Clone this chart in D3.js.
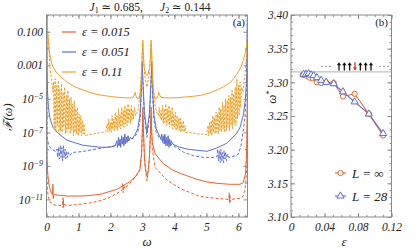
<!DOCTYPE html>
<html><head><meta charset="utf-8">
<script src="https://cdn.jsdelivr.net/npm/d3@7"></script>
<style>
body{margin:0;background:#fff}
svg{display:block}
text{font-family:"Liberation Serif","DejaVu Serif",serif;fill:#222}
</style>
</head><body>
<svg id="c" width="415" height="249"></svg>
<script>
// ---------- Panel (a) data: [omega, log10 F] ----------
const omegaTicks = [0,1,2,3,4,5,6];
const fTickExps = [-1,-3,-5,-7,-9,-11];
const fTickLabels = ["0.100","0.001","10|-5","10|-7","10|-9","10|-11"];
const legendA = ["ε = 0.015","ε = 0.051","ε = 0.11"];

const f015Solid = [[0.003,0.5],[0.01,-6.5],[0.02,-8.6],[0.04,-9.5],[0.07,-10.0],[0.11,-10.4],[0.16,-10.65],[0.19,-10.7],[0.2,-10.1],[0.21,-10.95],[0.23,-10.72],[0.4,-10.75],[0.64,-10.8],[1.0,-10.8],[1.27,-10.78],[1.67,-10.7],[2.2,-10.4],[2.6,-9.95],[2.8,-9.6],[2.92,-9.2],[2.97,-8.3],[2.995,-6.8],[3.01,-5.5],[3.025,-6.6],[3.06,-8.4],[3.1,-9.3],[3.14,-9.6],[3.18,-9.3],[3.22,-8.4],[3.255,-6.6],[3.27,-5.5],[3.285,-6.8],[3.31,-7.6],[3.39,-8.25],[3.64,-8.85],[3.9,-9.2],[4.17,-9.44],[4.7,-9.8],[5.0,-9.95],[5.33,-10.04],[5.73,-10.1],[6.05,-10.1],[6.15,-10.0],[6.22,-9.5],[6.26,-8.0],[6.283,-4.0]];

const f015Dashed = [[0.003,0.5],[0.008,-7.5],[0.02,-10.2],[0.05,-10.8],[0.11,-11.15],[0.2,-11.3],[0.33,-11.36],[0.5,-11.36],[0.51,-10.9],[0.52,-11.5],[0.53,-11.0],[0.54,-11.45],[0.56,-11.3],[0.64,-11.36],[0.9,-11.32],[1.27,-11.24],[1.6,-11.12],[1.9,-10.94],[2.2,-10.65],[2.36,-10.45],[2.38,-10.05],[2.4,-10.6],[2.42,-10.15],[2.44,-10.35],[2.7,-9.86],[2.92,-9.26],[2.97,-8.4],[3.0,-7.0],[3.015,-6.0],[3.03,-7.0],[3.07,-8.8],[3.14,-9.9],[3.21,-8.8],[3.255,-7.0],[3.27,-6.0],[3.285,-7.0],[3.31,-8.0],[3.39,-9.08],[3.77,-9.86],[4.17,-10.34],[4.7,-10.76],[5.0,-10.88],[5.33,-10.94],[5.7,-11.0],[5.71,-10.6],[5.72,-11.2],[5.73,-10.7],[5.74,-11.15],[5.76,-11.0],[6.05,-10.94],[6.15,-10.8],[6.22,-10.2],[6.26,-9.0],[6.283,-5.0]];

const f051Solid = [[0.004,0.5],[0.015,-3.0],[0.03,-4.5],[0.06,-5.5],[0.1,-6.1],[0.2,-6.7],[0.36,-7.05],[0.64,-7.47],[1.14,-7.77],[1.67,-7.89],[1.98,-7.89],[2.15,-7.8],[2.2,-7.5],[2.22,-7.9],[2.25,-7.3],[2.27,-7.8],[2.3,-7.4],[2.32,-7.9],[2.35,-7.2],[2.37,-7.7],[2.4,-7.3],[2.42,-7.8],[2.45,-7.1],[2.47,-7.7],[2.5,-7.3],[2.52,-7.6],[2.55,-7.2],[2.58,-7.5],[2.62,-7.3],[2.66,-7.4],[2.75,-7.2],[2.85,-6.8],[2.92,-6.0],[2.96,-4.6],[2.99,-2.8],[3.02,-4.2],[3.06,-5.8],[3.14,-7.0],[3.22,-5.8],[3.26,-4.2],[3.29,-2.8],[3.32,-4.6],[3.36,-6.0],[3.43,-6.8],[3.53,-7.2],[3.58,-7.4],[3.6,-7.1],[3.63,-7.6],[3.65,-7.2],[3.68,-7.7],[3.7,-7.1],[3.73,-7.8],[3.75,-7.3],[3.78,-7.8],[3.8,-7.2],[3.83,-7.9],[3.85,-7.4],[3.88,-7.8],[3.9,-7.5],[3.95,-7.7],[4.1,-7.85],[4.4,-8.0],[4.7,-8.07],[5.02,-8.13],[5.3,-7.95],[5.64,-7.65],[5.95,-7.05],[6.05,-6.7],[6.15,-6.0],[6.22,-5.0],[6.26,-3.5],[6.283,0.5]];

const f051Dashed = [[0.003,0.5],[0.008,-5.0],[0.02,-7.3],[0.06,-7.7],[0.11,-7.9],[0.2,-8.05],[0.3,-8.15],[0.33,-8.0],[0.35,-8.5],[0.38,-7.9],[0.4,-8.6],[0.43,-7.8],[0.45,-8.5],[0.48,-7.9],[0.5,-8.7],[0.53,-7.8],[0.55,-8.5],[0.58,-8.0],[0.6,-8.6],[0.63,-8.1],[0.65,-8.5],[0.68,-8.2],[0.72,-8.4],[0.8,-8.2],[1.1,-8.15],[1.4,-8.05],[1.7,-7.95],[1.98,-7.85],[2.2,-7.75],[2.4,-7.6],[2.6,-7.45],[2.75,-7.3],[2.85,-7.0],[2.92,-6.3],[2.96,-4.9],[2.99,-3.1],[3.02,-4.4],[3.06,-6.0],[3.14,-7.3],[3.22,-6.0],[3.26,-4.4],[3.29,-3.1],[3.32,-4.9],[3.36,-6.3],[3.43,-7.0],[3.55,-7.4],[3.8,-7.65],[3.95,-7.77],[4.3,-8.2],[4.6,-8.4],[4.89,-8.49],[5.2,-8.5],[5.33,-8.45],[5.35,-8.0],[5.38,-8.7],[5.4,-8.1],[5.43,-8.8],[5.45,-8.0],[5.48,-8.7],[5.5,-8.2],[5.53,-8.8],[5.55,-8.1],[5.58,-8.6],[5.6,-8.2],[5.63,-8.7],[5.65,-8.3],[5.7,-8.5],[5.78,-8.45],[5.9,-8.4],[6.0,-8.3],[6.08,-7.8],[6.14,-7.0],[6.2,-6.2],[6.25,-4.5],[6.283,0.5]];

const f011Solid = [[0.004,0.5],[0.02,-0.4],[0.035,-1.0],[0.056,-1.5],[0.08,-2.0],[0.11,-2.4],[0.15,-2.8],[0.2,-3.1],[0.3,-3.4],[0.42,-3.65],[0.64,-4.0],[0.9,-4.3],[1.14,-4.47],[1.4,-4.65],[1.67,-4.77],[2.0,-4.86],[2.3,-4.92],[2.6,-4.95],[2.7,-4.92],[2.75,-4.75],[2.77,-4.6],[2.79,-4.8],[2.82,-4.95],[2.9,-4.98],[2.94,-4.6],[2.97,-3.6],[2.995,-2.4],[3.01,-1.5],[3.025,-2.3],[3.05,-3.1],[3.1,-3.5],[3.14,-3.6],[3.18,-3.5],[3.23,-3.1],[3.255,-2.3],[3.27,-1.5],[3.285,-2.4],[3.31,-3.6],[3.34,-4.6],[3.38,-4.98],[3.46,-4.95],[3.49,-4.8],[3.51,-4.6],[3.53,-4.75],[3.58,-4.92],[3.8,-4.95],[4.1,-4.93],[4.48,-4.87],[4.8,-4.8],[5.11,-4.65],[5.35,-4.45],[5.52,-4.3],[5.73,-4.05],[5.85,-3.8],[5.94,-3.57],[6.08,-3.1],[6.15,-2.7],[6.2,-2.38],[6.24,-2.0],[6.27,-1.6],[6.283,-1.4]];

const f011Dashed = [[0.005,0.5],[0.03,-0.6],[0.07,-1.8],[0.11,-3.2],[0.16,-3.9],[0.2,-4.6],
[0.22,-4.0],[0.24,-6.8],[0.27,-3.8],[0.29,-7.0],[0.32,-4.2],[0.34,-6.6],[0.37,-3.9],[0.39,-7.1],[0.42,-4.4],[0.44,-6.9],[0.47,-4.1],[0.49,-7.0],[0.52,-4.6],[0.54,-6.7],[0.57,-4.3],[0.59,-7.1],[0.62,-4.8],[0.64,-7.0],[0.67,-4.5],[0.69,-6.8],[0.72,-5.0],[0.74,-7.1],[0.77,-4.9],[0.79,-6.9],[0.82,-5.3],[0.84,-7.2],[0.87,-5.1],[0.89,-7.0],[0.92,-5.6],[0.94,-7.1],[0.97,-5.5],[0.99,-7.2],[1.02,-5.9],[1.04,-7.0],[1.07,-6.0],[1.09,-7.2],[1.12,-6.3],[1.14,-7.1],[1.17,-6.5],[1.2,-7.2],
[1.3,-7.15],[1.45,-7.1],[1.6,-7.05],[1.75,-7.0],[1.85,-6.95],
[1.9,-6.5],[1.92,-7.0],[1.95,-6.2],[1.97,-6.9],[2.0,-6.4],[2.02,-7.0],[2.05,-6.0],[2.07,-6.8],[2.1,-6.2],[2.12,-6.9],[2.15,-5.8],[2.17,-6.8],[2.2,-6.0],[2.22,-6.9],[2.25,-5.6],[2.27,-6.7],[2.3,-5.9],[2.32,-6.8],[2.35,-5.5],[2.37,-6.6],[2.4,-5.7],[2.42,-6.7],[2.45,-5.4],[2.47,-6.5],[2.5,-5.6],[2.52,-6.6],[2.55,-5.3],[2.57,-6.4],[2.6,-5.6],[2.62,-6.5],[2.65,-5.4],[2.67,-6.3],[2.7,-5.7],[2.72,-6.2],[2.75,-5.5],[2.78,-6.0],[2.82,-5.9],
[2.88,-5.5],[2.95,-4.0],[2.99,-2.2],[3.01,-1.7],[3.03,-2.5],[3.07,-3.6],[3.14,-4.3],[3.21,-3.6],[3.25,-2.5],[3.27,-1.7],[3.29,-2.2],[3.33,-4.0],[3.4,-5.5],
[3.46,-5.9],[3.5,-6.0],[3.52,-5.5],[3.55,-6.2],[3.58,-5.7],[3.6,-6.3],[3.63,-5.4],[3.65,-6.5],[3.68,-5.6],[3.7,-6.4],[3.73,-5.3],[3.75,-6.6],[3.78,-5.6],[3.8,-6.5],[3.83,-5.4],[3.85,-6.7],[3.88,-5.7],[3.9,-6.6],[3.93,-5.5],[3.95,-6.8],[3.98,-5.9],[4.0,-6.7],[4.03,-5.8],[4.05,-6.9],[4.08,-6.0],[4.1,-6.8],[4.13,-6.2],[4.15,-6.9],[4.18,-6.1],[4.2,-7.0],[4.23,-6.4],[4.25,-6.9],[4.28,-6.3],[4.3,-7.0],[4.33,-6.6],[4.35,-7.0],
[4.45,-7.0],[4.6,-7.05],[4.75,-7.1],[4.9,-7.1],[5.0,-7.15],
[5.05,-6.6],[5.07,-7.2],[5.1,-6.4],[5.12,-7.1],[5.15,-6.3],[5.17,-7.2],[5.2,-6.0],[5.22,-7.0],[5.25,-6.1],[5.27,-7.1],[5.3,-5.8],[5.32,-7.0],[5.35,-5.9],[5.37,-7.1],[5.4,-5.5],[5.42,-6.9],[5.45,-5.6],[5.47,-7.0],[5.5,-5.2],[5.52,-6.8],[5.55,-5.4],[5.57,-7.0],[5.6,-5.0],[5.62,-6.9],[5.65,-5.1],[5.67,-6.7],[5.7,-4.8],[5.72,-6.9],[5.75,-4.9],[5.77,-6.6],[5.8,-4.5],[5.82,-6.8],[5.85,-4.7],[5.87,-6.5],[5.9,-4.3],[5.92,-6.6],[5.95,-3.8],[5.97,-6.2],[6.0,-4.2],[6.02,-6.0],[6.05,-4.0],[6.07,-5.5],[6.1,-4.3],[6.14,-4.6],[6.18,-3.9],[6.22,-3.2],[6.25,-2.4],[6.27,-1.6],[6.283,-1.2]];

// ---------- Panel (b) data ----------
const epsTicks = [0,0.04,0.08,0.12];
const omegaStarTicks = [3.10,3.15,3.20,3.25,3.30,3.35,3.40];
const epsInf   = [0.014,0.018,0.022,0.026,0.031,0.036,0.042,0.051,0.062,0.076,0.093,0.110];
const omegaInf = [3.311,3.310,3.307,3.306,3.300,3.299,3.300,3.299,3.279,3.283,3.253,3.221];
const eps28    = [0.015,0.018,0.021,0.024,0.027,0.031,0.036,0.042,0.051,0.062,0.076,0.093,0.110];
const omega28  = [3.312,3.312,3.313,3.311,3.310,3.307,3.303,3.300,3.298,3.286,3.271,3.253,3.224];
const omegaRef = 3.3155;
const spins = [1,1,1,-1,1,1,1];
const legendB = ["L = ∞","L = 28"];

// ---------- styles ----------
const colRed = "#e8632b", colBlue = "#5d70cd", colOrange = "#eda127";
const frameCol = "#8a8a8a";

const svg = d3.select("#c");

// ================= Panel (a) =================
const A = {l:46.5, r:247.5, t:15, b:217};
const xA = d3.scaleLinear().domain([0, 2*Math.PI]).range([A.l, A.r]);
const yA = d3.scaleLog().domain([Math.pow(10,-12.05), 1]).range([A.b, A.t]);

svg.append("defs").append("clipPath").attr("id","clipA")
  .append("rect").attr("x",A.l).attr("y",A.t).attr("width",A.r-A.l).attr("height",A.b-A.t);

const gA = svg.append("g").attr("clip-path","url(#clipA)");
const lineA = d3.line().x(d=>xA(d[0])).y(d=>yA(Math.pow(10,d[1])));

const curves = [
  {d:f015Solid, c:colRed, dash:null},
  {d:f015Dashed, c:colRed, dash:"3,2"},
  {d:f051Solid, c:colBlue, dash:null},
  {d:f051Dashed, c:colBlue, dash:"3,2"},
  {d:f011Solid, c:colOrange, dash:null},
  {d:f011Dashed, c:colOrange, dash:"2.5,1.5"}
];
curves.forEach(cv=>{
  gA.append("path").attr("d", lineA(cv.d)).attr("fill","none")
    .attr("stroke", cv.c).attr("stroke-width",1)
    .attr("stroke-dasharray", cv.dash);
});

// frame
svg.append("rect").attr("x",A.l).attr("y",A.t).attr("width",A.r-A.l).attr("height",A.b-A.t)
  .attr("fill","none").attr("stroke",frameCol).attr("stroke-width",1);

function styleAxis(g){
  g.select(".domain").remove();
  g.selectAll(".tick line").attr("stroke",frameCol);
  g.selectAll(".tick text").attr("font-style","italic").attr("font-size",11.5).attr("fill","#222")
    .attr("font-family","Liberation Serif, DejaVu Serif, serif");
}
const minorOmega = d3.range(0, 6.3, 0.2);
// bottom
svg.append("g").attr("transform",`translate(0,${A.b})`)
  .call(d3.axisBottom(xA).tickValues(minorOmega).tickSize(-2).tickFormat("")).call(styleAxis);
svg.append("g").attr("transform",`translate(0,${A.b})`)
  .call(d3.axisBottom(xA).tickValues(omegaTicks).tickSize(-4).tickPadding(6).tickFormat(d3.format("d"))).call(styleAxis);
// top
svg.append("g").attr("transform",`translate(0,${A.t})`)
  .call(d3.axisTop(xA).tickValues(minorOmega).tickSize(-2).tickFormat("")).call(styleAxis);
svg.append("g").attr("transform",`translate(0,${A.t})`)
  .call(d3.axisTop(xA).tickValues(omegaTicks).tickSize(-4).tickFormat("")).call(styleAxis);
// left / right
const majorF = fTickExps.map(e=>Math.pow(10,e));
const minorF = [0,-2,-4,-6,-8,-10,-12].map(e=>Math.pow(10,e));
[["L",A.l],["R",A.r]].forEach(([s,px])=>{
  const mk = s==="L" ? d3.axisLeft : d3.axisRight;
  svg.append("g").attr("transform",`translate(${px},0)`)
    .call(mk(yA).tickValues(minorF).tickSize(-2.5).tickFormat("")).call(styleAxis);
  const g = svg.append("g").attr("transform",`translate(${px},0)`)
    .call(mk(yA).tickValues(majorF).tickSize(-4).tickPadding(3.5).tickFormat(s==="L"?((d,i)=>fTickLabels[i]):"")).call(styleAxis);
  if(s==="L"){
    g.selectAll(".tick text").each(function(d,i){
      const lab = fTickLabels[i];
      const t = d3.select(this);
      if(lab.indexOf("|")>=0){
        const [b,e] = lab.split("|");
        t.text(null);
        t.append("tspan").text(b);
        t.append("tspan").attr("dy","-0.45em").attr("font-size",8).text(e.replace("-","\u2212"));
      }
    });
  }
});

// legend (a)
const legColsA = [colRed, colBlue, colOrange];
legendA.forEach((lab,i)=>{
  const yy = 32 + i*20;
  svg.append("line").attr("x1",62).attr("x2",76).attr("y1",yy).attr("y2",yy)
    .attr("stroke",legColsA[i]).attr("stroke-width",1.2);
  svg.append("text").attr("x",82).attr("y",yy+4).attr("font-size",12.5)
    .attr("font-style","italic").text(lab);
});

// labels (a)
svg.append("text").attr("x",245).attr("y",26).attr("text-anchor","end")
  .attr("font-family","Liberation Sans, Arial, sans-serif").attr("font-size",11).text("(a)");
svg.append("text").attr("x",147).attr("y",246).attr("text-anchor","middle")
  .attr("font-size",13).attr("font-style","italic").text("ω");
svg.append("text").attr("transform","translate(12,117) rotate(-90)").attr("text-anchor","middle")
  .attr("font-size",12.5).attr("font-style","italic").text("ℱ(ω)");

// title
const title = svg.append("text").attr("x",150).attr("y",11).attr("text-anchor","middle").attr("font-size",11.5);
title.append("tspan").attr("font-style","italic").text("J");
title.append("tspan").attr("font-size",8).attr("dy",2).text("1");
title.append("tspan").attr("dy",-2).text(" ≃ 0.685,\u2002\u2002\u2002");
title.append("tspan").attr("font-style","italic").text("J");
title.append("tspan").attr("font-size",8).attr("dy",2).text("2");
title.append("tspan").attr("dy",-2).text(" ≃ 0.144");

// ================= Panel (b) =================
const B = {l:291, r:391.5, t:15, b:217};
const xB = d3.scaleLinear().domain([0,0.12]).range([B.l,B.r]);
const yB = d3.scaleLinear().domain([3.10,3.40]).range([B.b,B.t]);

svg.append("line").attr("x1",xB(0)).attr("x2",xB(0.12)).attr("y1",yB(omegaRef)).attr("y2",yB(omegaRef))
  .attr("stroke","#b0b0b0").attr("stroke-width",1);

// spin-chain annotation
const ay = yB(omegaRef) - 5.5;
const dotX = d3.scalePoint().domain(d3.range(3)).range([0,8]);
[322,380].forEach(x0=>{
  svg.selectAll(null).data(d3.range(3)).enter().append("circle")
    .attr("cx",d=>x0+dotX(d)).attr("cy",ay).attr("r",0.7).attr("fill","#666");
});
const spinX = d3.scalePoint().domain(d3.range(spins.length)).range([339,371]);
spins.forEach((s,i)=>{
  const cx = spinX(i), col = s>0 ? "#111" : "#d5321c";
  const tip = ay - s*4.2, tail = ay + s*4.2;
  svg.append("line").attr("x1",cx).attr("x2",cx).attr("y1",tail).attr("y2",tip + s*2.5)
    .attr("stroke",col).attr("stroke-width",1.3);
  svg.append("path").attr("d",`M${cx},${tip}L${cx-2.1},${tip+s*3}L${cx+2.1},${tip+s*3}Z`).attr("fill",col);
});

const lineB = d3.line().x(d=>xB(d[0])).y(d=>yB(d[1]));
const dInf = epsInf.map((e,i)=>[e,omegaInf[i]]);
const d28 = eps28.map((e,i)=>[e,omega28[i]]);
svg.append("path").attr("d",lineB(dInf)).attr("fill","none").attr("stroke",colRed).attr("stroke-width",1.1);
svg.append("path").attr("d",lineB(d28)).attr("fill","none").attr("stroke",colBlue).attr("stroke-width",1.1);
svg.selectAll(".mInf").data(dInf).enter().append("circle")
  .attr("cx",d=>xB(d[0])).attr("cy",d=>yB(d[1])).attr("r",2.6)
  .attr("fill","#fff").attr("stroke",colRed).attr("stroke-width",1);
const tri = d3.symbol().type(d3.symbolTriangle).size(22);
svg.selectAll(".m28").data(d28).enter().append("path")
  .attr("d",tri).attr("transform",d=>`translate(${xB(d[0])},${yB(d[1])})`)
  .attr("fill","#fff").attr("stroke",colBlue).attr("stroke-width",1);

svg.append("rect").attr("x",B.l).attr("y",B.t).attr("width",B.r-B.l).attr("height",B.b-B.t)
  .attr("fill","none").attr("stroke",frameCol).attr("stroke-width",1);

const minorEps = d3.range(0,0.1201,0.01);
const minorW = d3.range(3.10,3.4001,0.01);
svg.append("g").attr("transform",`translate(0,${B.b})`)
  .call(d3.axisBottom(xB).tickValues(minorEps).tickSize(-2).tickFormat("")).call(styleAxis);
svg.append("g").attr("transform",`translate(0,${B.b})`)
  .call(d3.axisBottom(xB).tickValues(epsTicks).tickSize(-4).tickPadding(6).tickFormat(d=>d===0?"0":d3.format(".2f")(d))).call(styleAxis);
svg.append("g").attr("transform",`translate(0,${B.t})`)
  .call(d3.axisTop(xB).tickValues(minorEps).tickSize(-2).tickFormat("")).call(styleAxis);
svg.append("g").attr("transform",`translate(0,${B.t})`)
  .call(d3.axisTop(xB).tickValues(epsTicks).tickSize(-4).tickFormat("")).call(styleAxis);
svg.append("g").attr("transform",`translate(${B.l},0)`)
  .call(d3.axisLeft(yB).tickValues(minorW).tickSize(-2).tickFormat("")).call(styleAxis);
svg.append("g").attr("transform",`translate(${B.l},0)`)
  .call(d3.axisLeft(yB).tickValues(omegaStarTicks).tickSize(-4).tickPadding(3).tickFormat(d3.format(".2f"))).call(styleAxis);
svg.append("g").attr("transform",`translate(${B.r},0)`)
  .call(d3.axisRight(yB).tickValues(minorW).tickSize(-2).tickFormat("")).call(styleAxis);
svg.append("g").attr("transform",`translate(${B.r},0)`)
  .call(d3.axisRight(yB).tickValues(omegaStarTicks).tickSize(-4).tickFormat("")).call(styleAxis);

// legend (b)
[[colRed,"c"],[colBlue,"t"]].forEach(([c,m],i)=>{
  const yy = 173 + i*23;
  svg.append("line").attr("x1",335).attr("x2",346).attr("y1",yy).attr("y2",yy).attr("stroke",c).attr("stroke-width",1.1);
  if(m==="c") svg.append("circle").attr("cx",340.5).attr("cy",yy).attr("r",2.6).attr("fill","#fff").attr("stroke",c);
  else svg.append("path").attr("d",tri).attr("transform",`translate(340.5,${yy})`).attr("fill","#fff").attr("stroke",c);
  svg.append("text").attr("x",352).attr("y",yy+4.5).attr("font-size",13).attr("font-style","italic").text(legendB[i]);
});

svg.append("text").attr("x",344).attr("y",246).attr("text-anchor","middle")
  .attr("font-size",13).attr("font-style","italic").text("ε");
const wl = svg.append("text").attr("transform","translate(276,97) rotate(-90)").attr("text-anchor","middle")
  .attr("font-size",13).attr("font-style","italic");
wl.append("tspan").text("ω");
wl.append("tspan").attr("dy",-4).attr("font-size",9).attr("font-style","normal").text("*");
svg.append("text").attr("x",388).attr("y",26).attr("text-anchor","end")
  .attr("font-family","Liberation Sans, Arial, sans-serif").attr("font-size",11).text("(b)");
</script>
</body></html>
